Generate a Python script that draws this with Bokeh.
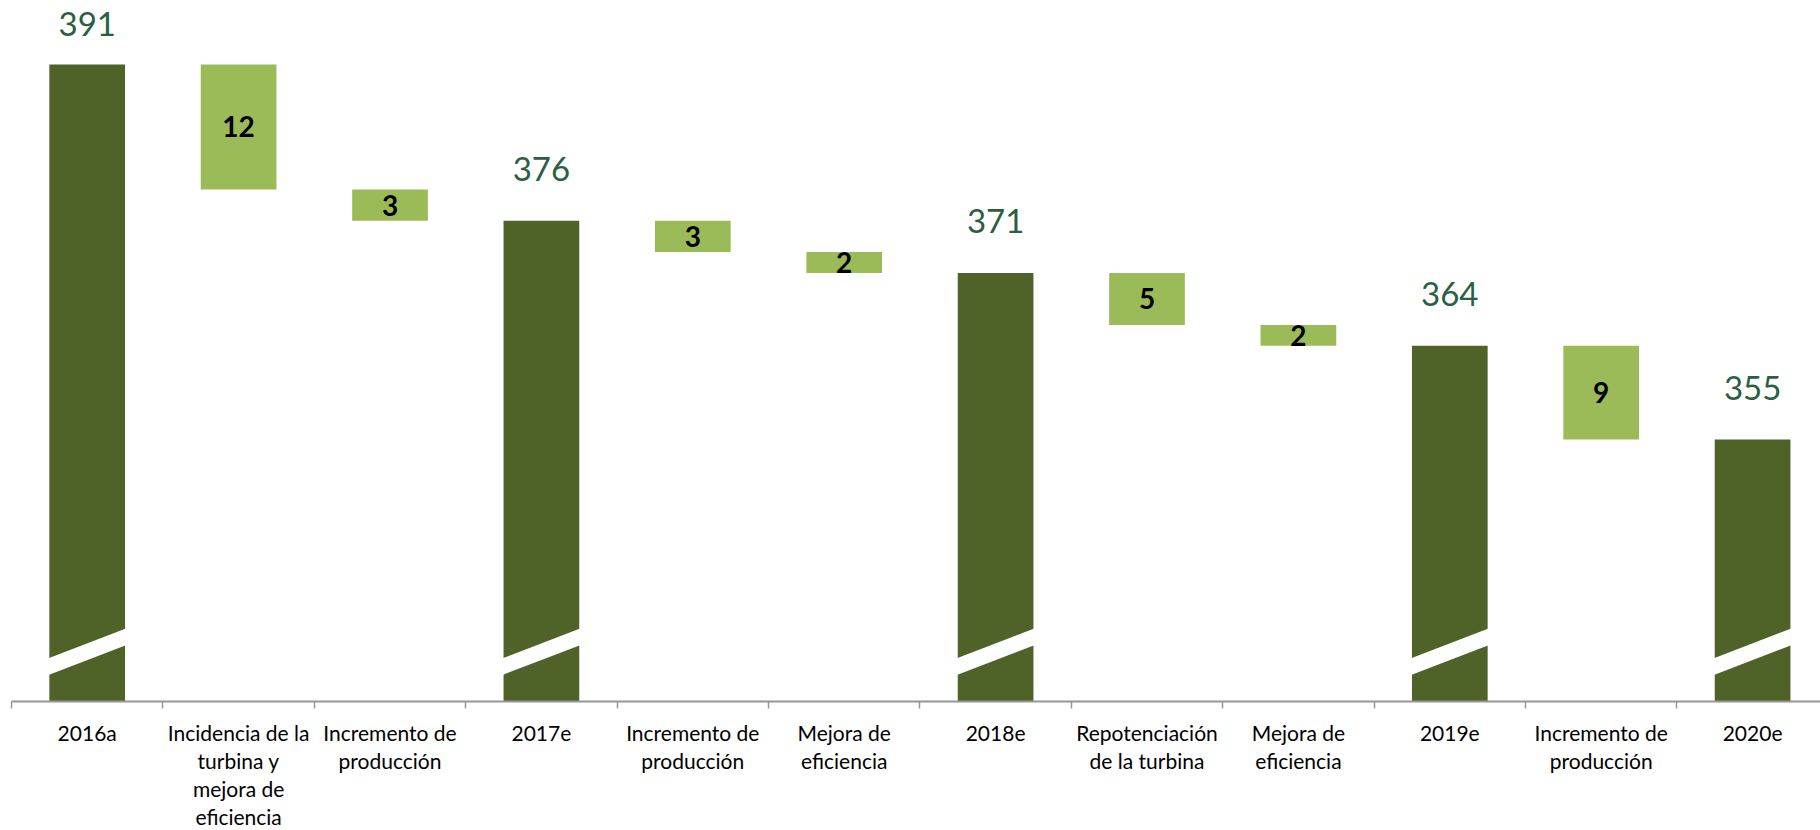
from bokeh.plotting import figure
from bokeh.models import Range1d, LinearAxis, FixedTicker, ColumnDataSource
from bokeh.core.properties import value
from bokeh.embed import file_html
from bokeh.resources import INLINE

# ---- data ----
categories = [
    "2016a",
    "Incidencia de la\nturbina y\nmejora de\neficiencia",
    "Incremento de\nproducción",
    "2017e",
    "Incremento de\nproducción",
    "Mejora de\neficiencia",
    "2018e",
    "Repotenciación\nde la turbina",
    "Mejora de\neficiencia",
    "2019e",
    "Incremento de\nproducción",
    "2020e",
]
kinds = ["total", "delta", "delta", "total", "delta", "delta",
         "total", "delta", "delta", "total", "delta", "total"]
values = [391, 12, 3, 376, 3, 2, 371, 5, 2, 364, 9, 355]

# ---- layout constants ----
Y_MIN, Y_MAX = 329.87, 396.37
FRAME_W, FRAME_H = 1809, 693
CAT_PX = 151.4
DARK = "#4F6228"
LIGHT = "#9BBB59"
LABEL_GREEN = "#2A6041"
FONT = "Lato"

# compute waterfall geometry
tot = dict(x=[], top=[], text=[], yoff=[])
dlt = dict(x=[], top=[], bottom=[], mid=[], text=[])
level = 0
for i, (k, v) in enumerate(zip(kinds, values)):
    xc = i + 0.5
    if k == "total":
        level = v
        tot["x"].append(xc)
        tot["top"].append(v)
        tot["text"].append(str(v))
    else:
        dlt["x"].append(xc)
        dlt["top"].append(level)
        dlt["bottom"].append(level - v)
        dlt["mid"].append(level - v / 2)
        dlt["text"].append(str(v))
        level -= v
# label offset above the total bars (first one is clamped by the chart top)
tot["yoff"] = [-40] + [-52] * (len(tot["x"]) - 1)

src_t = ColumnDataSource(tot)
src_d = ColumnDataSource(dlt)

p = figure(
    frame_width=FRAME_W, frame_height=FRAME_H,
    x_range=Range1d(0, FRAME_W / CAT_PX), y_range=Range1d(Y_MIN, Y_MAX),
    x_axis_location=None, y_axis_location=None,
    output_backend="svg", toolbar_location=None,
    min_border_left=11, min_border_right=0, min_border_top=8, min_border_bottom=125,
    background_fill_color="white", border_fill_color="white",
)
p.outline_line_color = None
p.grid.visible = False

# total bars
p.vbar(x="x", top="top", bottom=0, width=0.5, source=src_t,
       fill_color=DARK, line_color=None)
# change bars
p.vbar(x="x", top="top", bottom="bottom", width=0.5, source=src_d,
       fill_color=LIGHT, line_color=None)

# axis break marks on total bars
bxs, bys = [], []
for xc in tot["x"]:
    bxs.append([xc - 0.26, xc + 0.26, xc + 0.26, xc - 0.26])
    bys.append([332.4, 335.3, 336.9, 334.0])
p.patches(xs=bxs, ys=bys, fill_color="white", line_color=None)

# labels
p.text(x="x", y="top", text="text", source=src_t, y_offset="yoff",
       text_font=value(FONT), text_font_size="33px", text_color=LABEL_GREEN,
       text_align="center", text_baseline="alphabetic")
p.text(x="x", y="mid", text="text", source=src_d,
       text_font=value(FONT), text_font_size="28px", text_font_style="bold",
       text_color="black", text_align="center", text_baseline="middle")

# category axis
ticks = [i + 0.5 for i in range(len(categories))]
xaxis = LinearAxis(ticker=FixedTicker(ticks=ticks, minor_ticks=list(range(len(categories) + 1))))
xaxis.major_label_overrides = {t: c for t, c in zip(ticks, categories)}
xaxis.axis_line_color = "#969696"
xaxis.axis_line_width = 2
xaxis.major_tick_line_color = None
xaxis.major_tick_out = 0
xaxis.major_tick_in = 0
xaxis.minor_tick_line_color = "#969696"
xaxis.minor_tick_line_width = 1.5
xaxis.minor_tick_out = 7
xaxis.minor_tick_in = 0
xaxis.major_label_text_font = FONT
xaxis.major_label_text_font_size = "21px"
xaxis.major_label_text_line_height = 1.12
xaxis.major_label_text_color = "black"
xaxis.major_label_standoff = 11
p.add_layout(xaxis, "below")

open("out.html", "w").write(file_html(p, INLINE))
